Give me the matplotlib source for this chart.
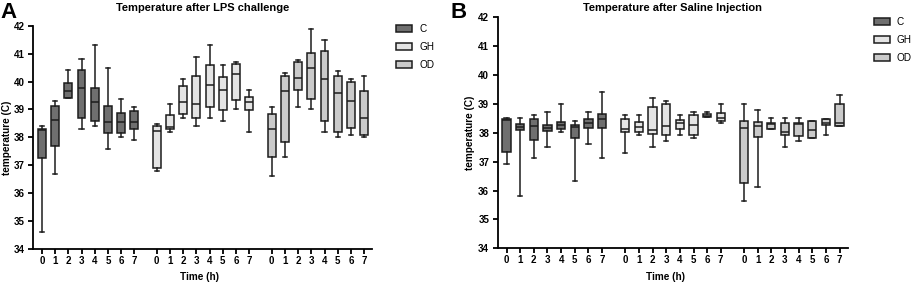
import matplotlib
matplotlib.use("Agg")
import matplotlib.pyplot as plt
from matplotlib.patches import Patch

plt.rcParams['font.family'] = ['Liberation Sans', 'DejaVu Sans']

groups = ['C', 'GH', 'OD']
times = [0, 1, 2, 3, 4, 5, 6, 7]
group_colors = ['#6f6f6f', '#e4e4e4', '#cacaca']

# LPS challenge: C (0-7), GH (0-7), OD (0-7)
lps_low = [34.6, 36.7, 39.4, 38.3, 38.4, 37.6, 38.0, 37.9,
           36.8, 38.2, 38.7, 38.4, 38.7, 38.6, 39.0, 38.2,
           36.6, 37.3, 39.1, 39.0, 38.2, 38.0, 38.1, 38.0]
lps_q1 = [37.27, 37.68, 39.41, 38.69, 38.57, 38.14, 38.17, 38.29,
          36.89, 38.29, 38.85, 38.69, 39.09, 38.99, 39.34, 38.98,
          37.30, 37.85, 39.71, 39.38, 38.60, 38.18, 38.35, 38.10]
lps_med = [38.28, 38.61, 39.66, 39.77, 39.28, 38.55, 38.55, 38.55,
           38.24, 38.38, 39.28, 39.18, 39.89, 39.68, 40.28, 39.28,
           38.30, 39.65, 40.14, 40.50, 40.10, 39.60, 39.30, 38.69]
lps_q3 = [38.31, 39.12, 39.94, 40.40, 39.78, 39.12, 38.86, 38.93,
          38.39, 38.80, 39.84, 40.19, 40.59, 40.17, 40.64, 39.46,
          38.84, 40.19, 40.69, 41.03, 41.08, 40.21, 39.99, 39.65]
lps_high = [38.39, 39.31, 40.40, 40.81, 41.31, 40.50, 39.39, 39.10,
            38.49, 39.18, 40.09, 40.89, 41.30, 40.59, 40.70, 39.68,
            39.10, 40.29, 40.78, 41.88, 41.49, 40.38, 40.08, 40.19]

# Saline injection
sal_low = [36.93, 35.81, 37.12, 37.52, 38.02, 36.32, 37.61, 37.12,
           37.31, 37.92, 37.51, 37.72, 37.91, 37.81, 38.54, 38.33,
           35.63, 36.11, 38.12, 37.51, 37.72, 37.83, 37.91, 38.24]
sal_q1 = [37.32, 38.10, 37.75, 38.05, 38.14, 37.83, 38.16, 38.16,
          38.03, 38.04, 37.95, 37.93, 38.13, 37.91, 38.54, 38.42,
          36.27, 37.86, 38.14, 37.92, 37.89, 37.83, 38.27, 38.24]
sal_med = [38.45, 38.21, 38.24, 38.18, 38.28, 38.20, 38.35, 38.49,
           38.12, 38.21, 38.10, 38.24, 38.33, 38.27, 38.59, 38.50,
           38.16, 38.24, 38.30, 38.02, 38.30, 38.10, 38.35, 38.35]
sal_q3 = [38.49, 38.29, 38.48, 38.27, 38.38, 38.26, 38.48, 38.66,
          38.49, 38.39, 38.88, 38.99, 38.44, 38.62, 38.64, 38.68,
          38.40, 38.36, 38.35, 38.34, 38.35, 38.40, 38.49, 38.99]
sal_high = [38.50, 38.51, 38.62, 38.72, 39.01, 38.42, 38.71, 39.40,
            38.62, 38.62, 39.22, 39.10, 38.62, 38.71, 38.71, 39.01,
            39.01, 38.80, 38.52, 38.52, 38.52, 38.40, 38.49, 39.31]

group_step = 8.7
positions = [g * group_step + t for g in range(len(groups)) for t in times]


def draw_panel(ax, low, q1, med, q3, high, title, title_pad):
    stats = []
    for i in range(len(positions)):
        stats.append(dict(whislo=low[i], q1=q1[i], med=med[i], q3=q3[i],
                          whishi=high[i], fliers=[]))
    edge = '#1c1c1c'
    lw = 1.1
    res = ax.bxp(stats, positions=positions, widths=0.6, capwidths=0.32,
                 patch_artist=True, showfliers=False,
                 boxprops=dict(linewidth=lw, edgecolor=edge),
                 whiskerprops=dict(linewidth=lw, color=edge),
                 capprops=dict(linewidth=lw, color=edge),
                 medianprops=dict(linewidth=lw, color=edge))
    for i, box in enumerate(res['boxes']):
        box.set_facecolor(group_colors[i // len(times)])

    ax.set_xlim(-0.65, positions[-1] + 0.6)
    ax.set_ylim(34, 42)
    ax.set_yticks(range(34, 43))
    ax.set_xticks(positions)
    ax.set_xticklabels([str(t) for t in times] * len(groups))
    for s in ['top', 'right']:
        ax.spines[s].set_visible(False)
    for s in ['left', 'bottom']:
        ax.spines[s].set_linewidth(1.3)
    ax.tick_params(axis='both', length=3.6, width=1.3, labelsize=7)
    ax.tick_params(axis='x', pad=1.5)
    ax.tick_params(axis='y', pad=2.5)
    for lab in ax.get_xticklabels() + ax.get_yticklabels():
        lab.set_fontweight('bold')
    ax.set_xlabel('Time (h)', fontsize=7.2, fontweight='bold')
    ax.set_ylabel('temperature (C)', fontsize=7.2, fontweight='bold')
    ax.set_title(title, fontsize=8, fontweight='bold', pad=title_pad)


fig = plt.figure(figsize=(9.13, 2.84), dpi=100)
ax1 = fig.add_axes([0.0365, 0.1232, 0.371, 0.7863])
ax2 = fig.add_axes([0.5451, 0.1257, 0.3834, 0.8133])

draw_panel(ax1, lps_low, lps_q1, lps_med, lps_q3, lps_high,
           'Temperature after LPS challenge', 10.5)
draw_panel(ax2, sal_low, sal_q1, sal_med, sal_q3, sal_high,
           'Temperature after Saline Injection', 4.5)
ax1.xaxis.set_label_coords(0.49, -0.103)
ax1.yaxis.set_label_coords(-0.064, 0.5)
ax2.xaxis.set_label_coords(0.48, -0.103)
ax2.yaxis.set_label_coords(-0.066, 0.5)

fig.text(0.0, 0.935, 'A', fontsize=16, fontweight='bold', va='baseline')
fig.text(0.493, 0.935, 'B', fontsize=16, fontweight='bold', va='baseline')

handles = [Patch(facecolor=c, edgecolor='#1c1c1c', linewidth=1.1) for c in group_colors]
ax1.legend(handles, groups, loc='upper left', bbox_to_anchor=(0.434, 0.915),
           bbox_transform=fig.transFigure, frameon=False, fontsize=7.2,
           handlelength=1.6, handleheight=0.8, handletextpad=0.7,
           labelspacing=0.8, borderpad=0, borderaxespad=0)
ax2.legend(handles, groups, loc='upper left', bbox_to_anchor=(0.957, 0.94),
           bbox_transform=fig.transFigure, frameon=False, fontsize=7.2,
           handlelength=1.6, handleheight=0.8, handletextpad=0.7,
           labelspacing=0.8, borderpad=0, borderaxespad=0)

fig.savefig('out.png', dpi=100)
